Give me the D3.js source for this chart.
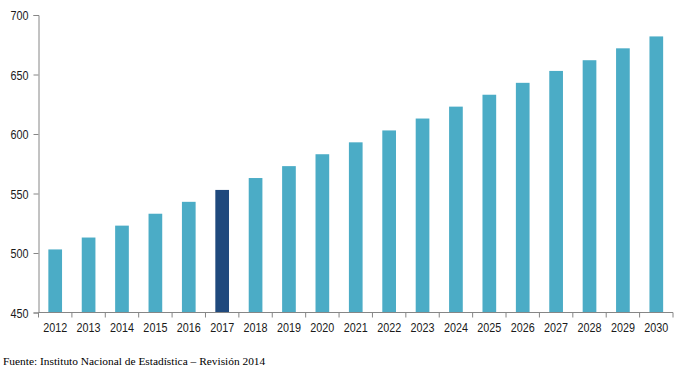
<!DOCTYPE html>
<html><head><meta charset="utf-8">
<script src="https://cdn.jsdelivr.net/npm/d3@7"></script>
<style>
body{margin:0;background:#fff;}
svg{display:block;}
</style></head>
<body><svg id="c" width="678" height="374"></svg>
<script>
const years = ["2012","2013","2014","2015","2016","2017","2018","2019","2020","2021","2022","2023","2024","2025","2026","2027","2028","2029","2030"];
const values = [503,513,523,533,543,553,563,573,583,593,603,613,623,633,643,653,662,672,682];
const highlightYear = "2017";
const yTicks = [450,500,550,600,650,700];
const source = "Fuente: Instituto Nacional de Estadística – Revisión 2014";

(function(){
const svg = d3.select("#c");
const mLeft = 38.5, mRight = 673, mTop = 15, mBottom = 312.5;
const narrow = '"Liberation Sans Narrow","Arial Narrow","Liberation Sans",Arial,sans-serif';
const sx = 0.8, fs = 13.5;
const x = d3.scaleBand().domain(years).range([mLeft, mRight]).paddingInner(0.59).paddingOuter(0.295);
const y = d3.scaleLinear().domain([450,700]).range([mBottom, mTop]);

svg.selectAll("rect.bar").data(years).join("rect")
  .attr("class","bar")
  .attr("x", d => x(d))
  .attr("width", x.bandwidth())
  .attr("y", (d,i) => y(values[i]))
  .attr("height", (d,i) => mBottom - y(values[i]))
  .attr("fill", d => d === highlightYear ? "#1f497d" : "#4bacc6");

const yAxis = svg.append("g").attr("transform", `translate(${mLeft},0)`)
  .call(d3.axisLeft(y).tickValues(yTicks).tickSize(5).tickPadding(4));
yAxis.select(".domain").attr("stroke","#868686");
yAxis.selectAll(".tick line").attr("stroke","#868686");
yAxis.selectAll(".tick text")
  .attr("x", 0).attr("dy","0.36em")
  .attr("transform", `translate(-10,0) scale(${sx},1)`)
  .style("font-family", narrow).style("font-size", fs + "px").attr("fill","#1a1a1a");

const xg = svg.append("g").attr("transform", `translate(0,${mBottom})`);
xg.append("line").attr("x1",mLeft).attr("x2",mRight).attr("stroke","#868686");
const bounds = d3.range(years.length + 1).map(i => mLeft + i * (mRight-mLeft)/years.length);
xg.selectAll("line.tk").data(bounds).join("line").attr("class","tk")
  .attr("x1", d=>d).attr("x2", d=>d).attr("y1",0).attr("y2",5).attr("stroke","#868686");
xg.selectAll("text").data(years).join("text")
  .attr("transform", d => `translate(${x(d) + x.bandwidth()/2},19) scale(${sx},1)`)
  .attr("text-anchor","middle")
  .style("font-family", narrow)
  .style("font-size", fs + "px").attr("fill","#1a1a1a")
  .text(d => d);

svg.append("text").attr("x",3).attr("y",365)
  .style("font-family",'"Liberation Serif","Times New Roman",serif')
  .style("font-size","11.4px").attr("fill","#000")
  .text(source);
})();
</script></body></html>
